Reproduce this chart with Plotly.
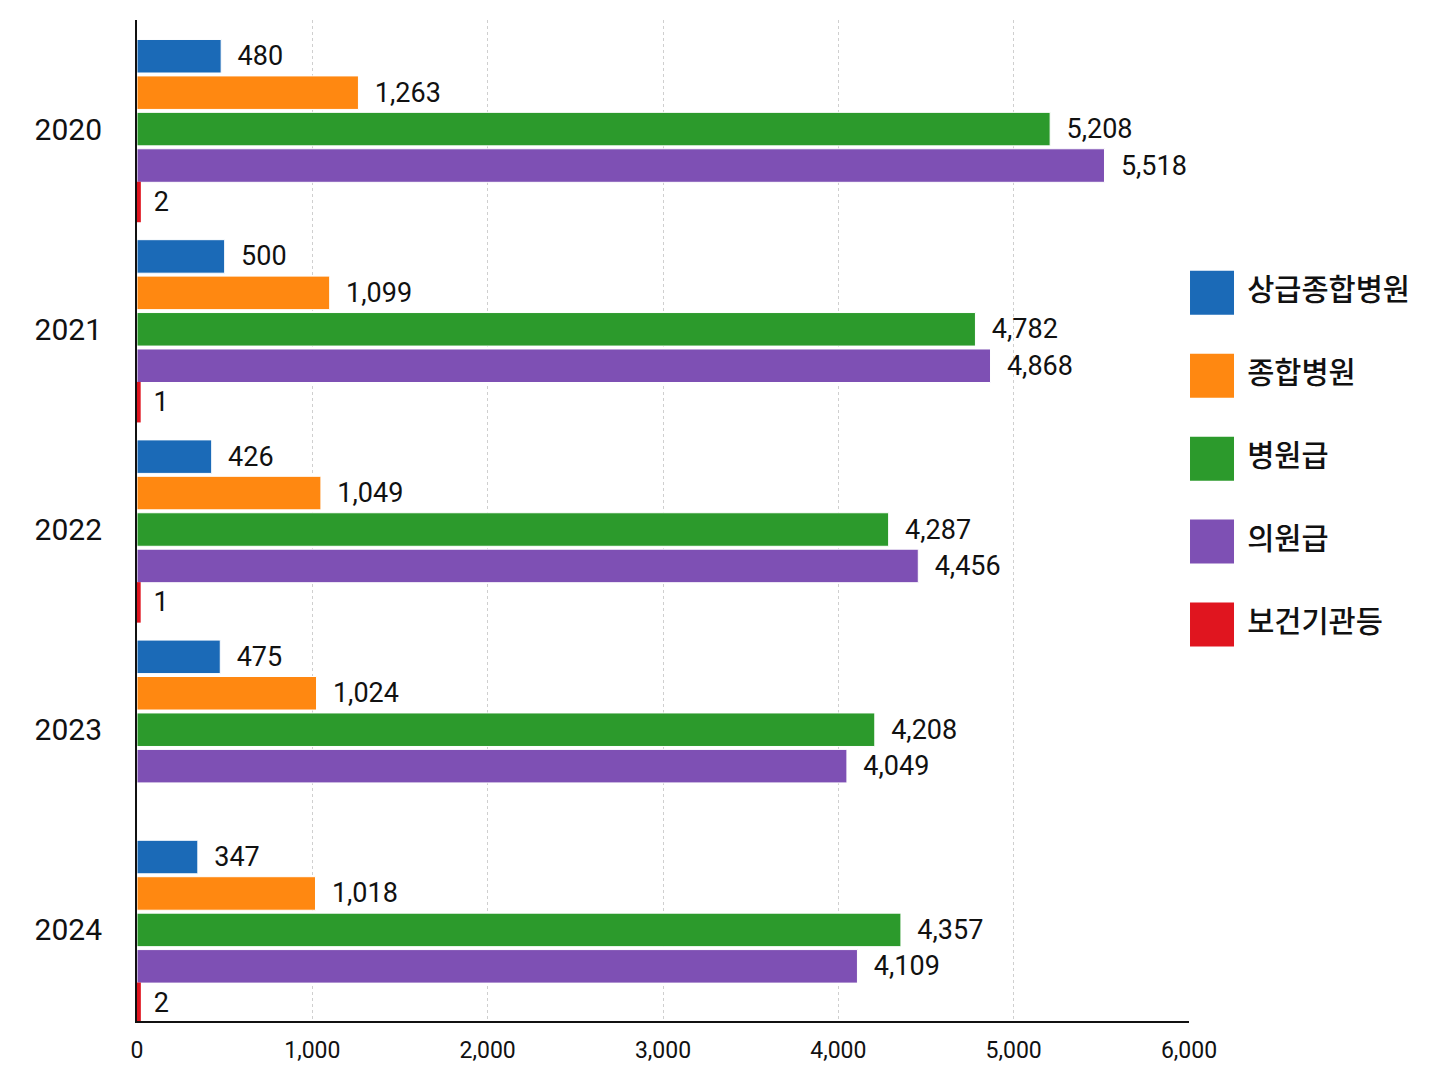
import plotly.graph_objects as go

years = ["2020", "2021", "2022", "2023", "2024"]
categories = ["상급종합병원", "종합병원", "병원급", "의원급", "보건기관등"]

tertiary = [480, 500, 426, 475, 347]
general = [1263, 1099, 1049, 1024, 1018]
hospital = [5208, 4782, 4287, 4208, 4357]
clinic = [5518, 4868, 4456, 4049, 4109]
public_health = [2, 1, 1, None, 2]

series = [tertiary, general, hospital, clinic, public_health]
colors = ["#1B6AB7", "#FF8811", "#2C9A2C", "#7E50B4", "#E0151F"]

fig = go.Figure()
for name, vals, col in zip(categories, series, colors):
    tiny = name == "보건기관등"  # values of 1-2 would be invisible without a stroke
    fig.add_trace(go.Bar(
        y=years,
        x=vals,
        name=name,
        orientation="h",
        showlegend=False,
        marker=dict(
            color=col,
            line=dict(color=col if tiny else "white", width=7 if tiny else 1),
        ),
        texttemplate="  %{x:,}",
        textposition="outside",
        textfont=dict(size=27, color="#111111"),
        cliponaxis=False,
    ))

# legend drawn as a small category axis so the swatches can be big squares
fig.add_trace(go.Scatter(
    x=[0] * len(categories),
    y=categories,
    xaxis="x2",
    yaxis="y2",
    mode="markers+text",
    marker=dict(symbol="square", size=44, color=colors, line=dict(width=0)),
    text=categories,
    texttemplate=" %{text}",
    textposition="middle right",
    textfont=dict(size=29.5, color="#111111", family="Noto Sans CJK KR, sans-serif", weight=500),
    cliponaxis=False,
    showlegend=False,
    hoverinfo="skip",
))

fig.update_layout(
    width=1440,
    height=1078,
    barmode="group",
    bargap=0.09,
    bargroupgap=0.08,
    paper_bgcolor="white",
    plot_bgcolor="white",
    font=dict(family="Roboto, Noto Sans CJK KR, sans-serif", color="#111111"),
    margin=dict(l=129, r=3, t=12, b=65),
    xaxis=dict(
        domain=[0, 1052 / 1308],
        range=[0, 6000],
        tickvals=[0, 1000, 2000, 3000, 4000, 5000, 6000],
        tickformat=",",
        showgrid=True,
        gridcolor="#cfcfcf",
        griddash="dot",
        gridwidth=1,
        zeroline=False,
        showline=True,
        linecolor="#111111",
        linewidth=2,
        tickfont=dict(size=23),
        ticklabelstandoff=7,
        automargin=False,
    ),
    yaxis=dict(
        range=[4.455, -0.545],
        showgrid=False,
        showline=True,
        linecolor="#111111",
        linewidth=2,
        tickfont=dict(size=30),
        ticklabelstandoff=27,
        automargin=False,
    ),
    xaxis2=dict(domain=[0.81, 1.0], range=[-1, 15], visible=False, anchor="y2"),
    yaxis2=dict(domain=[0.3546, 0.769], range=[4.5, -0.5], visible=False, anchor="x2"),
)

fig.write_html("out.html")
